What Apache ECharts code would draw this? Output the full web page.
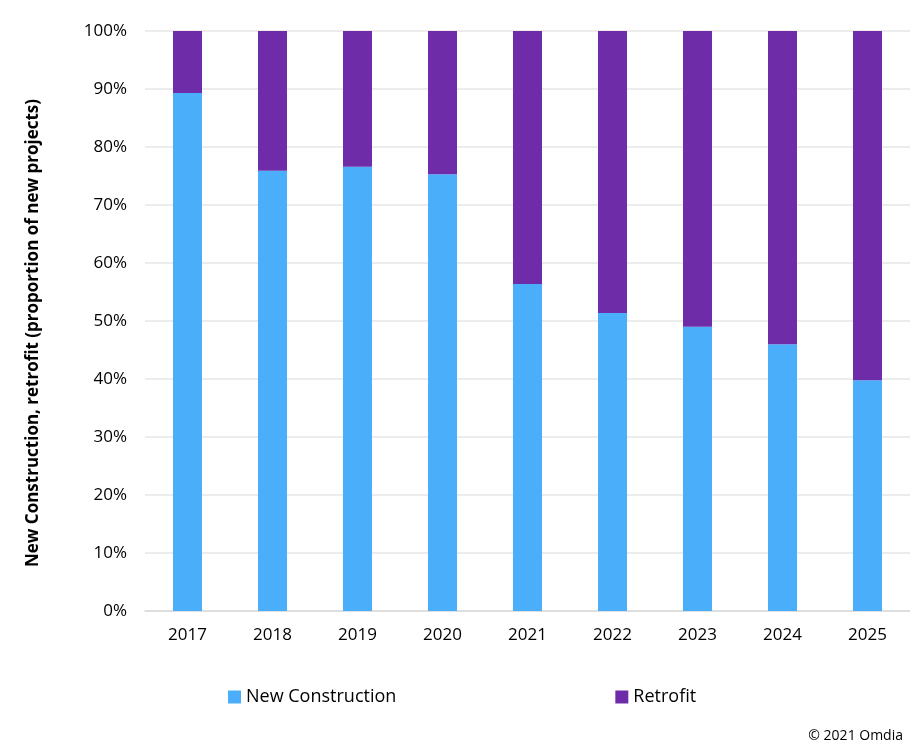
<!DOCTYPE html>
<html>
<head>
<meta charset="utf-8">
<script src="https://cdn.jsdelivr.net/npm/echarts@6/dist/echarts.min.js"></script>
<style>html,body{margin:0;padding:0;background:#fff}#c{width:910px;height:750px}</style>
</head>
<body>
<div id="c"></div>
<script>
const categories = ['2017','2018','2019','2020','2021','2022','2023','2024','2025'];
const newConstruction = [89.3, 75.9, 76.6, 75.3, 56.4, 51.4, 49.0, 46.0, 39.8];
const retrofit = newConstruction.map(v => +(100 - v).toFixed(1));
const yTicks = [0,10,20,30,40,50,60,70,80,90,100];
const yTitle = 'New Construction, retrofit (proportion of new projects)';

const FONT = '"Open Sans", "Liberation Sans", sans-serif';
const chart = echarts.init(document.getElementById('c'));
chart.setOption({
  animation: false,
  textStyle: { fontFamily: FONT },
  grid: { left: 145, right: 0, top: 31, bottom: 139 },
  legend: {
    data: ['New Construction', 'Retrofit'],
    left: 223, top: 683,
    itemWidth: 13, itemHeight: 13, itemGap: 219,
    icon: 'rect',
    textStyle: { fontSize: 18, color: '#000', fontFamily: FONT }
  },
  graphic: [{
    type: 'text', right: 7, top: 729,
    style: { text: '© 2021 Omdia', fontSize: 14, fill: '#000', fontFamily: FONT }
  }, {
    type: 'text', x: 33, y: 333, rotation: Math.PI / 2,
    style: { text: yTitle, fontSize: 17, fontWeight: 'bold', fill: '#000', fontFamily: FONT, align: 'center', verticalAlign: 'middle' }
  }],
  xAxis: {
    type: 'category', data: categories,
    axisLine: { lineStyle: { color: '#d9d9d9', width: 1.5 } },
    axisTick: { show: false },
    axisLabel: { fontSize: 17, color: '#000', margin: 16, fontFamily: FONT }
  },
  yAxis: {
    type: 'value', min: yTicks[0], max: yTicks[yTicks.length-1], interval: 10,
    axisLine: { show: false }, axisTick: { show: false },
    axisLabel: { fontSize: 17, color: '#000', margin: 18, formatter: v => v + '%', fontFamily: FONT },
    splitLine: { lineStyle: { color: '#e6e6e6', width: 1.5 } }
  },
  series: [
    { name: 'New Construction', type: 'bar', stack: 's', data: newConstruction, barWidth: 29, itemStyle: { color: '#4aaefa' } },
    { name: 'Retrofit', type: 'bar', stack: 's', data: retrofit, barWidth: 29, itemStyle: { color: '#6e2ca9' } }
  ]
});
</script>
</body>
</html>
